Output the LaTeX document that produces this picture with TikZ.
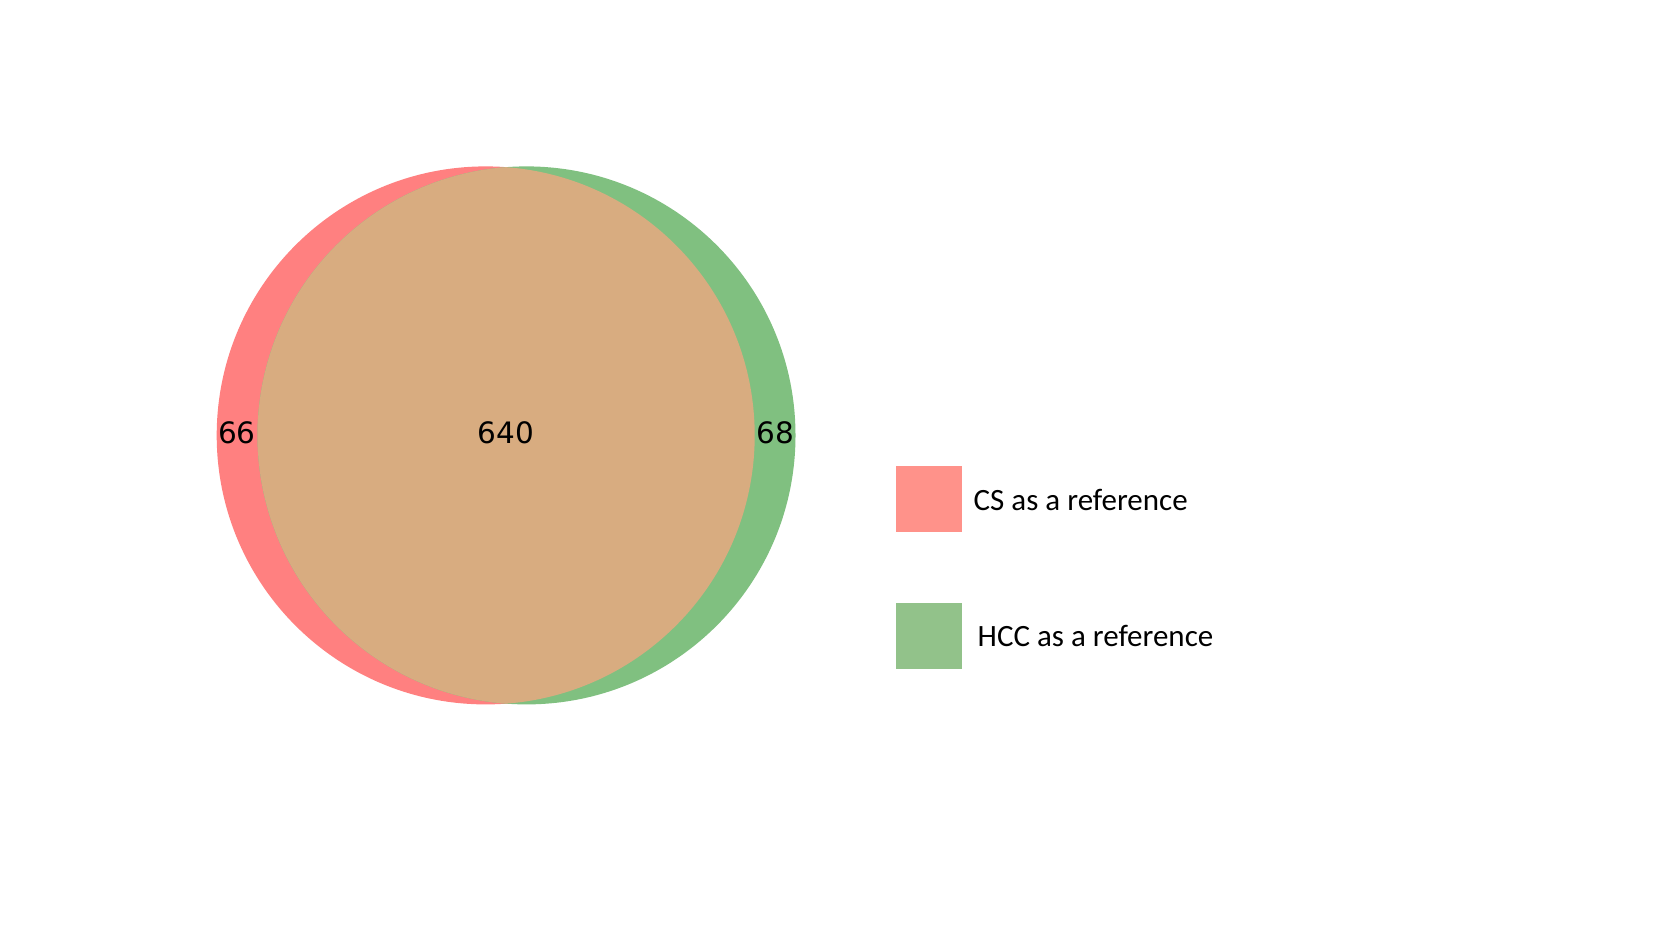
\documentclass[tikz,border=0pt]{standalone}
\usepackage{fontspec}
\setmainfont{Carlito}
\newfontfamily\numfont{DejaVu Sans}
\definecolor{vred}{RGB}{255,128,128}
\definecolor{vgreen}{RGB}{128,192,128}
\definecolor{vmix}{RGB}{216,172,128}
\definecolor{lred}{RGB}{255,146,138}
\definecolor{lgreen}{RGB}{146,194,138}
\tikzset{
  setlabel/.style={font=\numfont\fontsize{29.5}{31}\selectfont, text=black, inner sep=0pt},
  legbox/.style={minimum width=66pt, minimum height=66pt, inner sep=0pt, draw=none},
  legtext/.style={font=\fontsize{31}{36}\selectfont, anchor=west, inner sep=0pt},
}
\begin{document}
\begin{tikzpicture}[x=1pt,y=-1pt]
\useasboundingbox (0,0) rectangle (1661,934);
\fill[white] (0,0) rectangle (1661,934);
% circles
\fill[vred] (485.7,435.4) circle[radius=269];
\fill[vgreen] (526.5,435.4) circle[radius=269];
\begin{scope}
  \clip (485.7,435.4) circle[radius=269];
  \fill[vmix] (526.5,435.4) circle[radius=269];
\end{scope}
\node[setlabel] (a) at (237,433) {66};
\node[setlabel] (ab) at (506,433) {640};
\node[setlabel] (b) at (775,433) {68};
% legend
\node[legbox, fill=lred] (k1) at (929,499) {};
\node[legtext] (t1) at (973.5,500) {CS as a reference};
\node[legbox, fill=lgreen] (k2) at (929,635.5) {};
\node[legtext] (t2) at (977.5,636) {HCC as a reference};
\end{tikzpicture}
\end{document}
